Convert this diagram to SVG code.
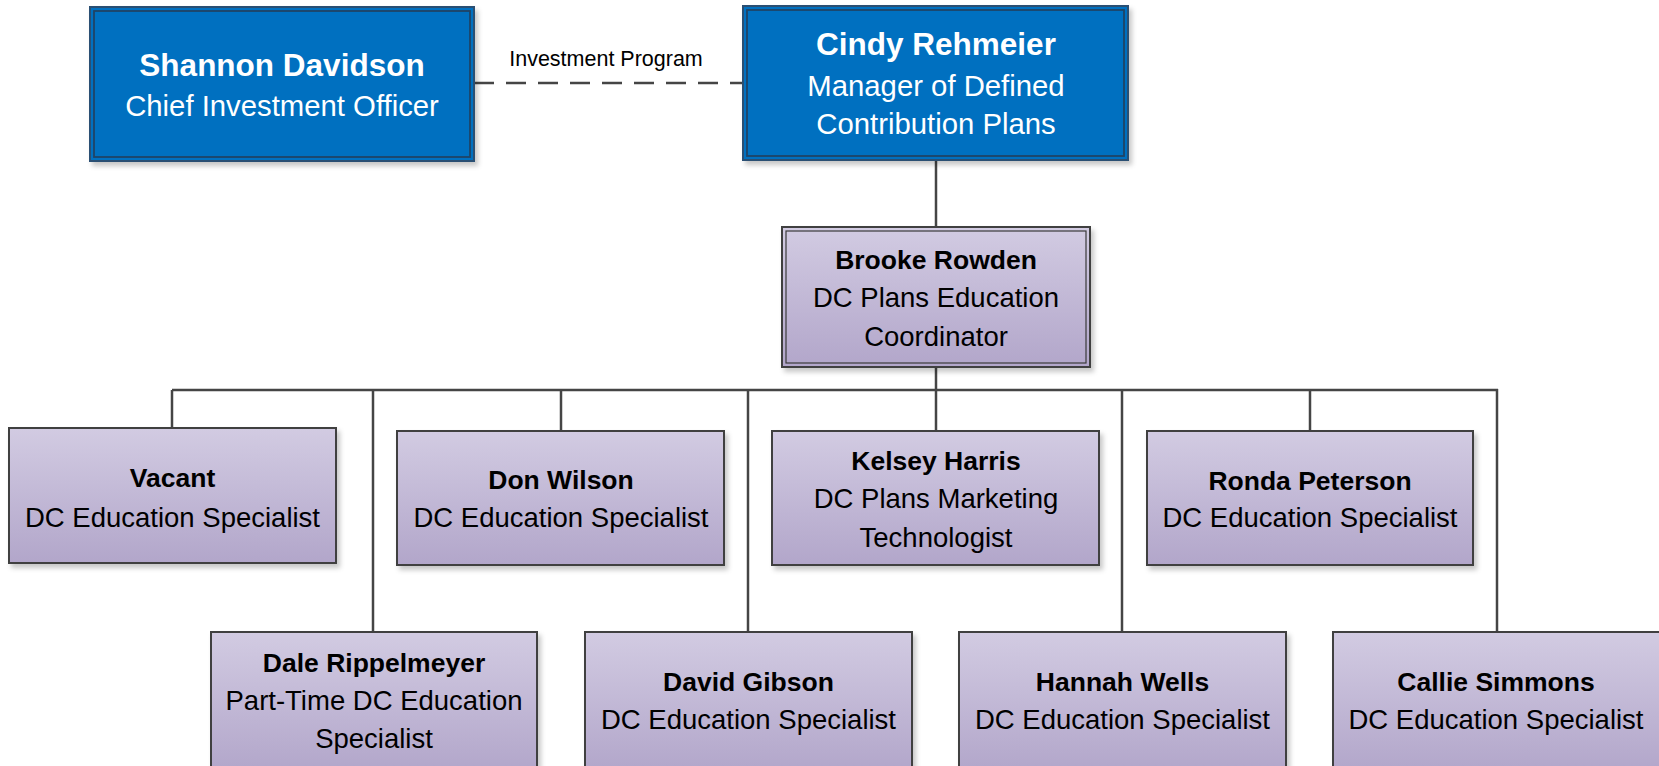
<svg xmlns="http://www.w3.org/2000/svg" width="1659" height="766" viewBox="0 0 1659 766">
<defs>
<linearGradient id="purp" x1="0" y1="0" x2="0" y2="1">
<stop offset="0" stop-color="#D2CBE2"/>
<stop offset="1" stop-color="#B2A6CA"/>
</linearGradient>
<filter id="sh" x="-5%" y="-5%" width="115%" height="120%">
<feDropShadow dx="3" dy="4" stdDeviation="2.5" flood-color="#000" flood-opacity="0.22"/>
</filter>
</defs>
<style>
.blue{fill:#0070C0;stroke:#2B4F73;stroke-width:2}
.bin{fill:none;stroke:#1F4466;stroke-width:1.8}
.pb{fill:url(#purp);stroke:#404040;stroke-width:2}
.pin{fill:none;stroke:#3a3a3a;stroke-width:1.2}
.con{fill:none;stroke:#454545;stroke-width:2.5}
text{font-family:"Liberation Sans",Arial,sans-serif;text-anchor:middle}
.wn{fill:#fff;font-weight:bold;font-size:31.5px}
.wt{fill:#fff;font-size:29.3px}
.kn{fill:#000;font-weight:bold;font-size:26.5px}
.kt{fill:#000;font-size:27.5px}
.lab{fill:#000;font-size:21.5px}
</style>
<rect width="1659" height="766" fill="#fff"/>
<g id="connectors">
<line class="con" x1="474" y1="83" x2="743" y2="83" stroke-dasharray="20 12"/>
<line class="con" x1="936" y1="160" x2="936" y2="227"/>
<line class="con" x1="936" y1="367" x2="936" y2="390"/>
<line class="con" x1="172" y1="390" x2="1498" y2="390"/>
<line class="con" x1="172" y1="390" x2="172" y2="428"/>
<line class="con" x1="561" y1="390" x2="561" y2="431"/>
<line class="con" x1="936" y1="390" x2="936" y2="431"/>
<line class="con" x1="1310" y1="390" x2="1310" y2="431"/>
<line class="con" x1="373" y1="390" x2="373" y2="632"/>
<line class="con" x1="748" y1="390" x2="748" y2="632"/>
<line class="con" x1="1122" y1="390" x2="1122" y2="632"/>
<line class="con" x1="1497" y1="389" x2="1497" y2="632"/>
<text class="lab" x="606" y="66">Investment Program</text>
</g>
<g id="shannon">
<rect class="blue" x="90" y="7" width="384" height="154" filter="url(#sh)"/>
<rect class="bin" x="94" y="11" width="376" height="146"/>
<text class="wn" x="282" y="76">Shannon Davidson</text>
<text class="wt" x="282" y="116">Chief Investment Officer</text>
</g>
<g id="cindy">
<rect class="blue" x="743" y="6" width="385" height="154" filter="url(#sh)"/>
<rect class="bin" x="747" y="10" width="377" height="146"/>
<text class="wn" x="936" y="55">Cindy Rehmeier</text>
<text class="wt" x="936" y="96">Manager of Defined</text>
<text class="wt" x="936" y="134">Contribution Plans</text>
</g>
<g id="brooke">
<rect class="pb" x="782" y="227" width="308" height="140" filter="url(#sh)"/>
<rect class="pin" x="786" y="231" width="300" height="132"/>
<text class="kn" x="936" y="269">Brooke Rowden</text>
<text class="kt" x="936" y="307">DC Plans Education</text>
<text class="kt" x="936" y="346">Coordinator</text>
</g>
<g id="vacant">
<rect class="pb" x="9" y="428" width="327" height="135" filter="url(#sh)"/>
<text class="kn" x="172.5" y="487">Vacant</text>
<text class="kt" x="172.5" y="527">DC Education Specialist</text>
</g>
<g id="don">
<rect class="pb" x="397" y="431" width="327" height="134" filter="url(#sh)"/>
<text class="kn" x="561" y="489">Don Wilson</text>
<text class="kt" x="561" y="527">DC Education Specialist</text>
</g>
<g id="kelsey">
<rect class="pb" x="772" y="431" width="327" height="134" filter="url(#sh)"/>
<text class="kn" x="936" y="470">Kelsey Harris</text>
<text class="kt" x="936" y="508">DC Plans Marketing</text>
<text class="kt" x="936" y="547">Technologist</text>
</g>
<g id="ronda">
<rect class="pb" x="1147" y="431" width="326" height="134" filter="url(#sh)"/>
<text class="kn" x="1310" y="490">Ronda Peterson</text>
<text class="kt" x="1310" y="527">DC Education Specialist</text>
</g>
<g id="dale">
<rect class="pb" x="211" y="632" width="326" height="140" filter="url(#sh)"/>
<text class="kn" x="374" y="672">Dale Rippelmeyer</text>
<text class="kt" x="374" y="710">Part-Time DC Education</text>
<text class="kt" x="374" y="748">Specialist</text>
</g>
<g id="david">
<rect class="pb" x="585" y="632" width="327" height="140" filter="url(#sh)"/>
<text class="kn" x="748.5" y="691">David Gibson</text>
<text class="kt" x="748.5" y="729">DC Education Specialist</text>
</g>
<g id="hannah">
<rect class="pb" x="959" y="632" width="327" height="140" filter="url(#sh)"/>
<text class="kn" x="1122.5" y="691">Hannah Wells</text>
<text class="kt" x="1122.5" y="729">DC Education Specialist</text>
</g>
<g id="callie">
<rect class="pb" x="1333" y="632" width="330" height="140" filter="url(#sh)"/>
<text class="kn" x="1496" y="691">Callie Simmons</text>
<text class="kt" x="1496" y="729">DC Education Specialist</text>
</g>
</svg>
